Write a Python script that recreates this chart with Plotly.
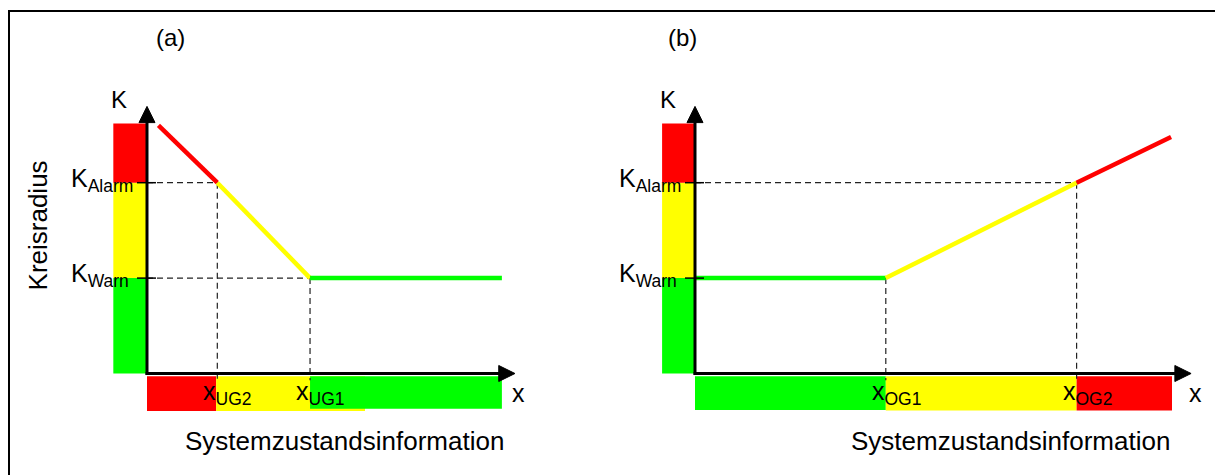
import plotly.graph_objects as go

# ---------------- data (abstract units) ----------------
K_WARN = 1.0
K_ALARM = 2.0
K_TOP = 2.62
K_EDGES = [0.0, K_WARN, K_ALARM, K_TOP]
K_ZONE_COLORS = ["#00FF00", "#FFFF00", "#FF0000"]
K_TICK_LABELS = ["K<sub>Warn</sub>", "K<sub>Alarm</sub>"]
K_TICK_VALUES = [K_WARN, K_ALARM]

RED, YELLOW, GREEN = "#FF0000", "#FFFF00", "#00FF00"

# panel (a): lower limits
A_THRESH = [0.737, 1.709]
A_THRESH_K = [K_ALARM, K_WARN]
A_THRESH_LABELS = ["x<sub>UG2</sub>", "x<sub>UG1</sub>"]
A_CURVE_X = [0.12, 0.737, 1.709, 3.72]
A_CURVE_K = [2.60, 2.0, 1.0, 1.0]
A_SEG_COLORS = [RED, YELLOW, GREEN]
A_ZONE_START = [0.0, 0.725, 1.709]
A_ZONE_END = [0.725, 2.285, 3.72]
A_ZONE_COLORS = [RED, YELLOW, GREEN]
A_X_END = 3.857

# panel (b): upper limits
B_THRESH = [2.0, 4.0]
B_THRESH_K = [K_WARN, K_ALARM]
B_THRESH_LABELS = ["x<sub>OG1</sub>", "x<sub>OG2</sub>"]
B_CURVE_X = [0.0, 2.0, 4.0, 4.99]
B_CURVE_K = [1.0, 1.0, 2.0, 2.48]
B_SEG_COLORS = [GREEN, YELLOW, RED]
B_ZONE_START = [0.0, 2.0, 4.0]
B_ZONE_END = [2.0, 4.0, 5.0]
B_ZONE_COLORS = [GREEN, YELLOW, RED]
B_X_END = 5.2

K_END = 2.80
PANEL_TITLES = ["(a)", "(b)"]
X_TITLE = "Systemzustandsinformation"
Y_TITLE = "Kreisradius"

# ---------------- layout constants ----------------
OFF = 8                        # page body margin
W, H = 1223 - OFF, 475 - OFF
S = 95.4                       # px per unit
ORIG_A = (147.0 - OFF, 373.5 - OFF)
ORIG_B = (695.0 - OFF, 373.5 - OFF)
SPLIT = 611.0 - OFF
FONT = "Liberation Sans, Arial, sans-serif"

fig = go.Figure()
shapes = []
annotations = []


def panel(xref, yref, thresh, thresh_k, thresh_labels, cx, ck, segcols,
          zs, ze, zcols, x_end, kbar_left, title, title_x, kt_x, ktitle_x,
          ytitle_x, xtitle_x, xlab_x, zone_bottom, green_bottom):
    # colored K zones (left bar)
    for i, col in enumerate(K_ZONE_COLORS):
        shapes.append(dict(type="rect", xref=xref, yref=yref, x0=kbar_left, x1=0,
                           y0=K_EDGES[i], y1=K_EDGES[i + 1], fillcolor=col,
                           line=dict(width=0), layer="below"))
    # colored x zones (bottom bar)
    for s0, s1, col in zip(zs, ze, zcols):
        y1 = -0.03
        y0 = green_bottom if col == GREEN else zone_bottom
        shapes.append(dict(type="rect", xref=xref, yref=yref, x0=s0, x1=s1,
                           y0=y0, y1=y1, fillcolor=col, line=dict(width=0), layer="below"))
    # dashed guide lines
    for tx, tk in zip(thresh, thresh_k):
        shapes.append(dict(type="line", xref=xref, yref=yref, x0=0, x1=tx, y0=tk, y1=tk,
                           line=dict(color="#222", width=1.2, dash="6px,4px"), layer="below"))
        shapes.append(dict(type="line", xref=xref, yref=yref, x0=tx, x1=tx, y0=tk, y1=-0.07,
                           line=dict(color="#222", width=1.2, dash="6px,4px"), layer="below"))
    # curve segments
    for i, col in enumerate(segcols):
        fig.add_trace(go.Scatter(x=cx[i:i + 2], y=ck[i:i + 2], mode="lines",
                                 line=dict(color=col, width=4.5), xaxis=xref, yaxis=yref,
                                 hoverinfo="skip", showlegend=False))
    # axes lines
    ah = 0.084
    al = 0.17
    shapes.append(dict(type="line", xref=xref, yref=yref, x0=0, x1=0, y0=-0.015,
                       y1=K_END - al + 0.01, line=dict(color="black", width=3)))
    shapes.append(dict(type="line", xref=xref, yref=yref, x0=-0.015, x1=x_end - al + 0.01,
                       y0=0, y1=0, line=dict(color="black", width=3)))
    shapes.append(dict(type="path", xref=xref, yref=yref,
                       path=f"M 0,{K_END} L {-ah},{K_END - al} L {ah},{K_END - al} Z",
                       fillcolor="black", line=dict(color="black", width=1)))
    shapes.append(dict(type="path", xref=xref, yref=yref,
                       path=f"M {x_end},0 L {x_end - al},{-ah} L {x_end - al},{ah} Z",
                       fillcolor="black", line=dict(color="black", width=1)))
    # ticks on K axis
    for kv in K_TICK_VALUES:
        shapes.append(dict(type="line", xref=xref, yref=yref, x0=-0.105, x1=0.094,
                           y0=kv, y1=kv, line=dict(color="black", width=1.5)))
    # texts
    f24 = dict(family=FONT, size=24, color="black")
    f25 = dict(family=FONT, size=25, color="black")
    f26 = dict(family=FONT, size=26, color="black")
    annotations.append(dict(xref=xref, yref=yref, x=title_x, y=3.506, text=title,
                            showarrow=False, font=f24, xanchor="center", yanchor="middle",
                            yshift=2))
    annotations.append(dict(xref=xref, yref=yref, x=ktitle_x, y=2.87, text="K",
                            showarrow=False, font=f24, xanchor="center", yanchor="middle"))
    for lab, kv in zip(K_TICK_LABELS, K_TICK_VALUES):
        annotations.append(dict(xref=xref, yref=yref, x=kt_x, y=kv, text=lab,
                                showarrow=False, font=f25, xanchor="left", yanchor="middle",
                                xshift=-4, yshift=3))
    for lab, tx in zip(thresh_labels, thresh):
        annotations.append(dict(xref=xref, yref=yref, x=tx, y=-0.2, text=lab,
                                showarrow=False, font=f25, xanchor="left", yanchor="middle",
                                xshift=-16))
    annotations.append(dict(xref=xref, yref=yref, x=xlab_x, y=-0.2, text="x",
                            showarrow=False, font=f25, xanchor="center", yanchor="middle"))
    annotations.append(dict(xref=xref, yref=yref, x=xtitle_x, y=-0.71, text=X_TITLE,
                            showarrow=False, font=f26, xanchor="center", yanchor="middle"))
    annotations.append(dict(xref=xref, yref=yref, x=ytitle_x, y=1.557, text=Y_TITLE,
                            showarrow=False, font=f26, xanchor="center", yanchor="middle",
                            textangle=-90))


panel("x", "y", A_THRESH, A_THRESH_K, A_THRESH_LABELS, A_CURVE_X, A_CURVE_K,
      A_SEG_COLORS, A_ZONE_START, A_ZONE_END, A_ZONE_COLORS, A_X_END, -0.353,
      PANEL_TITLES[0], 0.246, -0.779, -0.29, -1.148, 2.075, 3.89, -0.392, -0.37)
panel("x2", "y2", B_THRESH, B_THRESH_K, B_THRESH_LABELS, B_CURVE_X, B_CURVE_K,
      B_SEG_COLORS, B_ZONE_START, B_ZONE_END, B_ZONE_COLORS, B_X_END, -0.345,
      PANEL_TITLES[1], -0.13, -0.773, -0.28, -1.127, 3.31, 5.25, -0.388, -0.383)

# outer frame (only top and left edges are visible in the picture)
shapes.append(dict(type="line", xref="paper", yref="paper", x0=0, x1=1.3,
                   y0=1 - 3 / H, y1=1 - 3 / H, line=dict(color="black", width=2)))
shapes.append(dict(type="line", xref="paper", yref="paper", x0=1.0 / W, x1=1.0 / W,
                   y0=-0.3, y1=1 - 3 / H, line=dict(color="black", width=2)))

yr = [(ORIG_A[1] - H) / S, ORIG_A[1] / S]
fig.update_layout(
    width=W, height=H, margin=dict(l=0, r=0, t=0, b=0),
    paper_bgcolor="white", plot_bgcolor="rgba(0,0,0,0)",
    showlegend=False, shapes=shapes, annotations=annotations,
    xaxis=dict(domain=[0, SPLIT / W], range=[(0 - ORIG_A[0]) / S, (SPLIT - ORIG_A[0]) / S],
               visible=False, fixedrange=True),
    xaxis2=dict(domain=[SPLIT / W, 1], range=[(SPLIT - ORIG_B[0]) / S, (W - ORIG_B[0]) / S],
                visible=False, fixedrange=True),
    yaxis=dict(domain=[0, 1], range=yr, visible=False, fixedrange=True),
    yaxis2=dict(domain=[0, 1], range=yr, visible=False, fixedrange=True, anchor="x2"),
)
fig.write_html("out.html")
